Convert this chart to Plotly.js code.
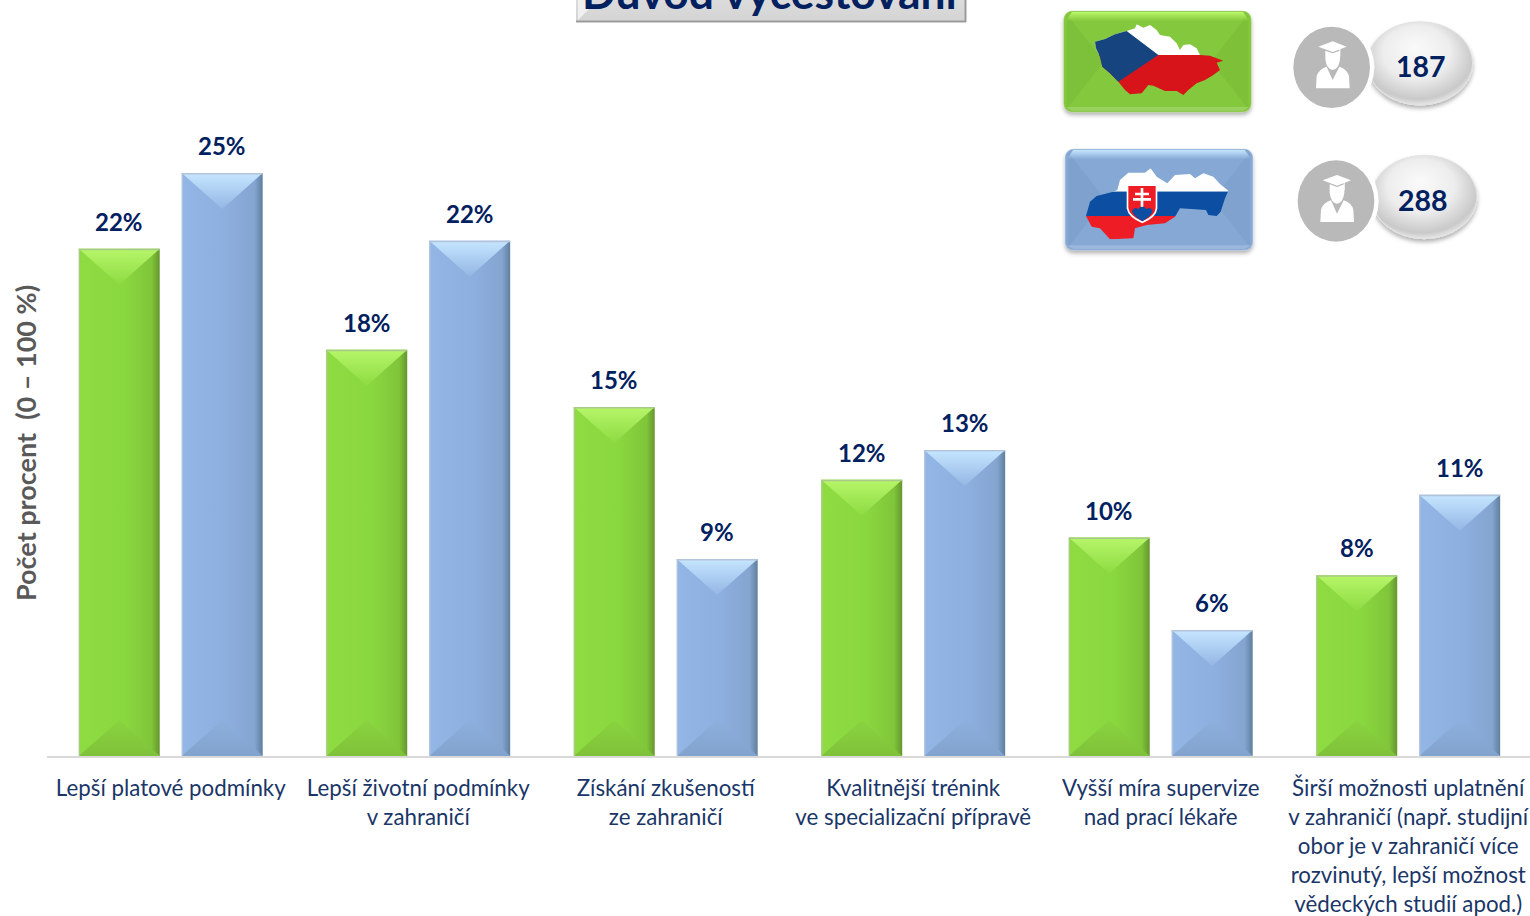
<!DOCTYPE html>
<html>
<head>
<meta charset="utf-8">
<script src="https://cdn.plot.ly/plotly-3.0.1.min.js"></script>
<style>html,body{margin:0;padding:0;background:#fff;overflow:hidden}#chart{width:1530px;height:916px}</style>
</head>
<body>
<div id="chart"></div>
<script>
const categories = [
  "Lepší platové podmínky",
  "Lepší životní podmínky<br>v zahraničí",
  "Získání zkušeností<br>ze zahraničí",
  "Kvalitnější trénink<br>ve specializační přípravě",
  "Vyšší míra supervize<br>nad prací lékaře",
  "Širší možnosti uplatnění<br>v zahraničí (např. studijní<br>obor je v zahraničí více<br>rozvinutý, lepší možnost<br>vědeckých studií apod.)"
];
const czValues = [21.75, 17.42, 14.97, 11.85, 9.37, 7.75];
const skValues = [25.0, 22.1, 8.45, 13.12, 5.4, 11.2];
const czLabels = ["22%", "18%", "15%", "12%", "10%", "8%"];
const skLabels = ["25%", "22%", "9%", "13%", "6%", "11%"];
const titleText = "Důvod vycestování";
const yTitleText = "Počet procent  (0 – 100 %)";
const czCount = "187";
const skCount = "288";

const FONT = "Lato, Carlito, Calibri, sans-serif";
const NAVY = "#002060";
const W = 1530, H = 916, L = 47, AX = 756;
const px = x => (x - L) / (W - L);
const py = y => 1 - y / AX;

function person(dx, dy) {
  return `<g transform="translate(${dx},${dy})" fill="#fff">
    <path d="M805 140 L848 124 L890 140 L848 156 Z"/>
    <path d="M826 152 L848 160 L870 152 L870 178 Q866 208 848 210 Q830 208 826 178 Z"/>
    <rect x="868" y="142" width="3" height="28"/>
    <path d="M798 265 L800 228 Q806 208 830 200 L848 240 L868 200 Q892 208 897 228 L899 265 Z"/>
  </g>`;
}
function bubble(dx, dy) {
  return `<g transform="translate(${dx},${dy})">
    <ellipse cx="1110" cy="190" rx="158" ry="125" fill="url(#pill)" stroke="#e2e2e2" stroke-width="3" filter="url(#sh)"/>
    <ellipse cx="845" cy="202" rx="128" ry="135" fill="#fff"/>
    <ellipse cx="845" cy="202" rx="115" ry="122" fill="#b9b9b9"/>
  </g>`;
}
function bevelBox(x, y, w, h, base, band, dark, edge) {
  const r = 24, d = 120;
  return `<g filter="url(#sh)"><rect x="${x}" y="${y}" width="${w}" height="${h}" rx="${r}" fill="${base}" stroke="${edge}" stroke-width="2"/></g>
    <path d="M${x+8} ${y+8} L${x+d} ${y+h/2} L${x+8} ${y+h-8} Z" fill="${dark}" opacity="0.4"/>
    <path d="M${x+w-8} ${y+8} L${x+w-d} ${y+h/2} L${x+w-8} ${y+h-8} Z" fill="${dark}" opacity="0.35"/>
    <path d="M${x+r} ${y+2} L${x+w-r} ${y+2} L${x+w-4} ${y+30} L${x+4} ${y+30} Z" fill="url(#${band})"/>
    <path d="M${x+r} ${y+h-3} L${x+w-r} ${y+h-3} L${x+w-4} ${y+h-14} L${x+4} ${y+h-14} Z" fill="#fff" opacity="0.18"/>`;
}
const czOutline = "M30 80 L60 72 L90 58 L125 48 L150 40 L155 28 L175 38 L195 30 L215 45 L225 60 L255 65 L275 85 L285 105 L295 90 L315 88 L335 100 L345 120 L375 122 L415 137 L395 143 L405 165 L385 180 L360 195 L335 205 L310 225 L295 240 L275 228 L240 228 L205 212 L190 210 L170 235 L135 238 L120 225 L100 200 L75 175 L52 155 L45 125 L33 100 Z";
const skOutline = "M18 168 L30 125 L50 108 L100 95 L112 90 L120 60 L145 38 L195 38 L212 25 L230 50 L262 70 L285 45 L330 42 L345 55 L370 40 L400 50 L420 72 L445 92 L435 115 L422 155 L410 168 L385 165 L378 150 L345 148 L300 145 L285 170 L255 190 L200 195 L165 205 L160 235 L90 238 L60 205 L35 200 Z";

const art = `<svg xmlns="http://www.w3.org/2000/svg" width="${W}" height="${H}" viewBox="0 0 ${W} ${H}">
<defs>
  <filter id="sh" x="-10%" y="-10%" width="120%" height="125%"><feDropShadow dx="0" dy="9" stdDeviation="6" flood-color="#000" flood-opacity="0.3"/></filter>
  <radialGradient id="pill" cx="0.48" cy="0.42" r="0.58" fx="0.45" fy="0.3"><stop offset="0" stop-color="#fafafa"/><stop offset="0.55" stop-color="#ededed"/><stop offset="0.9" stop-color="#c9c9c9"/><stop offset="1" stop-color="#e6e6e6"/></radialGradient>
  <linearGradient id="tb" x1="0" y1="0" x2="0" y2="1"><stop offset="0" stop-color="#e2e2e2"/><stop offset="1" stop-color="#d4d4d4"/></linearGradient>
  <linearGradient id="bandG" x1="0" y1="0" x2="0" y2="1"><stop offset="0" stop-color="#bcf86c"/><stop offset="1" stop-color="#b4f264" stop-opacity="0"/></linearGradient>
  <linearGradient id="bandB" x1="0" y1="0" x2="0" y2="1"><stop offset="0" stop-color="#c6e6ff"/><stop offset="1" stop-color="#c6e6ff" stop-opacity="0"/></linearGradient>
  <clipPath id="cz"><path d="${czOutline}"/></clipPath>
  <clipPath id="sk"><path d="${skOutline}"/></clipPath>
</defs>
<rect x="576" y="-20" width="390" height="42" fill="url(#tb)"/>
<rect x="576" y="20.5" width="390" height="2" fill="#9b9b9b"/>
<rect x="964.5" y="-20" width="2" height="42" fill="#9b9b9b"/>
<path d="M578 20 L590 8 L590 -20 L578 -20 Z" fill="#f0f0f0"/>
<g transform="translate(1050,0) scale(0.33333)">
  ${bevelBox(42,34,561,301,"#84c83c","bandG","#74b534","#8fc94f")}
  ${bevelBox(46,448,562,302,"#85a8d4","bandB","#7597c3","#9ab8dd")}
  <g transform="translate(105,45)"><g clip-path="url(#cz)">
    <rect x="0" y="0" width="430" height="120" fill="#fff"/>
    <rect x="0" y="120" width="430" height="130" fill="#d7141a"/>
    <path d="M-48 -8 L125 48 L220 120 L100 200 L-48 300 Z" fill="#16447f"/>
  </g></g>
  <g transform="translate(90,480)"><g clip-path="url(#sk)">
    <rect x="0" y="0" width="460" height="95" fill="#fff"/>
    <rect x="0" y="95" width="460" height="73" fill="#0b4ea2"/>
    <rect x="0" y="168" width="460" height="80" fill="#ee1c25"/>
  </g></g>
  <path d="M230 554 L322 554 L322 625 Q320 652 277 670 Q234 652 230 625 Z" fill="#fff"/>
  <path d="M235 558 L317 558 L317 624 Q315 648 277 664 Q239 648 235 624 Z" fill="#ee1c25"/>
  <path d="M246 634 Q254 618 264 628 Q277 610 290 628 Q300 618 308 634 Q302 650 277 664 Q252 650 246 634 Z" fill="#0b4ea2"/>
  <path d="M272 564 H280 V578 H297 V586 H280 V594 H303 V602 H280 V620 H272 V602 H249 V594 H272 V586 H255 V578 H272 Z" fill="#fff"/>
  ${bubble(0,0)}${person(0,0)}
  ${bubble(13,401)}${person(13,401)}
</g>
</svg>`;

const data = [
  {type:"bar", name:"CZ", x:categories, y:czValues, marker:{color:"#8fdb42", line:{width:0}}, hoverinfo:"skip"},
  {type:"bar", name:"SK", x:categories, y:skValues, marker:{color:"#8fb3e0", line:{width:0}}, hoverinfo:"skip"}
];

const valueNotes = [];
categories.forEach((c,i) => {
  [[czValues,czLabels,-51.5],[skValues,skLabels,51.5]].forEach(([v,l,s]) => {
    valueNotes.push({xref:"x", yref:"y", x:c, y:v[i], text:"<b>"+l[i]+"</b>", showarrow:false,
      xshift:s, xanchor:"center", yanchor:"bottom", yshift:11, font:{family:FONT, size:24, color:NAVY}});
  });
});
const note = (x, y, text, size, color, extra) => Object.assign({xref:"paper", yref:"paper", x:px(x), y:py(y),
  xanchor:"center", yanchor:"middle", showarrow:false, text:"<b>"+text+"</b>", font:{family:FONT, size:size, color:color}}, extra||{});

const layout = {
  width:W, height:H, showlegend:false,
  paper_bgcolor:"#fff", plot_bgcolor:"rgba(0,0,0,0)",
  margin:{l:L, r:0, t:0, b:H-AX, pad:0},
  barmode:"group", bargap:0.168, bargroupgap:0.214,
  xaxis:{type:"category", range:[-0.5,5.492], automargin:false, showgrid:false, showline:true, linecolor:"#d9d9d9", linewidth:2,
    ticks:"outside", ticklen:11, tickcolor:"rgba(0,0,0,0)", tickangle:0,
    tickfont:{family:FONT, size:22.3, color:"#1a3668"}},
  yaxis:{range:[0,32.42], visible:false, fixedrange:true},
  images:[{source:"data:image/svg+xml;charset=utf-8,"+encodeURIComponent(art), xref:"paper", yref:"paper",
    x:px(0), y:py(0), sizex:W/(W-L), sizey:H/AX, sizing:"stretch", xanchor:"left", yanchor:"top", layer:"below"}],
  annotations:[
    ...valueNotes,
    note(771, -9, titleText, 44.4, NAVY),
    note(26, 443, yTitleText, 27, "#595959", {textangle:-90}),
    note(1421, 66, czCount, 28.5, NAVY),
    note(1423, 200, skCount, 28.5, NAVY)
  ]
};

const NS = "http://www.w3.org/2000/svg";
function grad(defs, id, x2, y2, stops) {
  const g = document.createElementNS(NS,"linearGradient");
  g.setAttribute("id",id); g.setAttribute("x1",0); g.setAttribute("y1",0); g.setAttribute("x2",x2); g.setAttribute("y2",y2);
  stops.forEach(([o,c]) => { const s = document.createElementNS(NS,"stop"); s.setAttribute("offset",o); s.setAttribute("stop-color",c); g.appendChild(s); });
  defs.appendChild(g);
}
function styleBars(gd) {
  const svg = gd.querySelector(".main-svg");
  let defs = svg.querySelector("defs");
  grad(defs,"gBody",1,0,[[0,"#8edb42"],[0.55,"#8ad83f"],[0.9,"#80c53a"],[1,"#66962e"]]);
  grad(defs,"gTop",0,1,[[0,"#b6f66a"],[1,"#8edb42"]]);
  grad(defs,"gBot",0,1,[[0,"#8ad43f"],[1,"#7fc23a"]]);
  grad(defs,"bBody",1,0,[[0,"#92b6e5"],[0.55,"#8dafdf"],[0.9,"#84a5cf"],[1,"#5f7f9f"]]);
  grad(defs,"bTop",0,1,[[0,"#c6e6ff"],[1,"#93b6e4"]]);
  grad(defs,"bBot",0,1,[[0,"#8cafdd"],[1,"#82a3cd"]]);
  gd.querySelectorAll(".trace.bars").forEach((tr,ti) => {
    const p = ti === 0 ? "g" : "b";
    const edge = ti === 0 ? "#a9c98a" : "#b3c4da";
    tr.querySelectorAll(".point").forEach(pt => {
      const path = pt.querySelector("path");
      const b = path.getBBox();
      path.style.fill = "url(#"+p+"Body)";
      const cx = b.x + b.width/2, d = 36;
      const add = (pts, fill) => { const e = document.createElementNS(NS,"polygon");
        e.setAttribute("points",pts); e.style.fill = fill; pt.appendChild(e); };
      add(`${b.x},${b.y} ${b.x+b.width},${b.y} ${cx},${b.y+d}`, "url(#"+p+"Top)");
      add(`${b.x},${b.y+b.height} ${b.x+b.width},${b.y+b.height} ${cx},${b.y+b.height-d}`, "url(#"+p+"Bot)");
      add(`${b.x},${b.y} ${b.x+b.width},${b.y} ${b.x+b.width},${b.y+1.5} ${b.x},${b.y+1.5}`, edge);
      add(`${b.x},${b.y} ${b.x+1.2},${b.y} ${b.x+1.2},${b.y+b.height} ${b.x},${b.y+b.height}`, edge);
    });
  });
}
Plotly.newPlot("chart", data, layout, {displayModeBar:false, staticPlot:true}).then(styleBars);
</script>
</body>
</html>
